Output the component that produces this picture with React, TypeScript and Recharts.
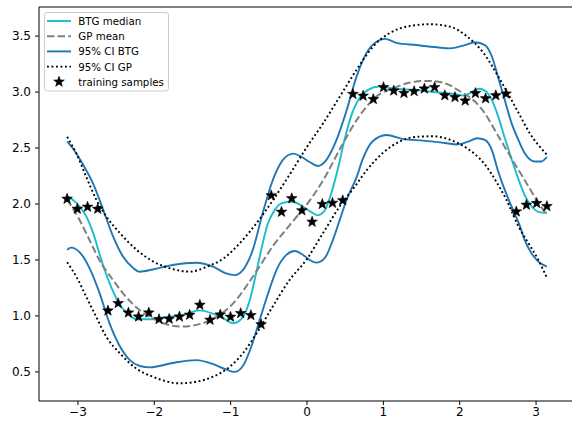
import React from 'react';
import { ComposedChart, Line, Scatter, XAxis, YAxis, ReferenceLine } from 'recharts';

// training samples
const sampleX = [
  -3.142, -3.008, -2.874, -2.741, -2.607, -2.473, -2.339, -2.206, -2.072, -1.938, -1.805, -1.671,
  -1.537, -1.403, -1.27, -1.136, -1.002, -0.869, -0.735, -0.601, -0.468, -0.334, -0.2, -0.067,
  0.067, 0.2, 0.334, 0.468, 0.601, 0.735, 0.869, 1.002, 1.136, 1.27, 1.403, 1.537,
  1.671, 1.805, 1.938, 2.072, 2.206, 2.339, 2.473, 2.607, 2.741, 2.874, 3.008, 3.142,
];
const sampleY = [
  2.045, 1.956, 1.974, 1.956, 1.047, 1.113, 1.029, 0.993, 1.029, 0.97, 0.973, 0.993,
  1.009, 1.098, 0.964, 1.011, 0.991, 1.024, 1.006, 0.924, 2.076, 1.929, 2.05, 1.942,
  1.84, 1.999, 2.009, 2.032, 2.982, 2.966, 2.936, 3.043, 3.012, 2.991, 3.007, 3.03,
  3.043, 2.97, 2.954, 2.923, 2.99, 2.943, 2.97, 2.985, 1.932, 1.992, 2.007, 1.98,
];

// BTG median
const btgMedianX = [
  -3.142, -3.02, -2.89, -2.8, -2.72, -2.65, -2.56, -2.46, -2.35, -2.22, -2.06, -1.84, -1.62, -1.41,
  -1.23, -1.1, -0.97, -0.84, -0.75, -0.67, -0.59, -0.52, -0.42, -0.32, -0.19, -0.06, 0.05, 0.14,
  0.23, 0.32, 0.41, 0.49, 0.58, 0.69, 0.8, 0.95, 1.15, 1.4, 1.65, 1.9, 2.05, 2.16, 2.25, 2.34,
  2.42, 2.5, 2.59, 2.68, 2.77, 2.85, 2.94, 3.03, 3.142,
];
const btgMedianY = [
  2.07, 2.01, 1.89, 1.74, 1.56, 1.41, 1.25, 1.11, 1.02, 0.97, 0.97, 0.99, 1.01, 1.05,
  1.02, 0.98, 0.935, 0.99, 1.14, 1.37, 1.62, 1.81, 1.95, 2.01, 2.02, 1.98, 1.93, 1.9,
  1.94, 2.1, 2.33, 2.57, 2.79, 2.95, 3.02, 3.05, 3.03, 3.02, 3.0, 2.985, 2.97, 3.0, 3.03, 3.01,
  2.93, 2.79, 2.59, 2.4, 2.22, 2.08, 1.98, 1.93, 1.92,
];

// GP mean
const gpMeanX = [
  -3.142, -2.98, -2.85, -2.72, -2.54, -2.37, -2.19, -1.97, -1.67, -1.45, -1.19, -0.97, -0.71,
  -0.45, -0.18, 0.035, 0.21, 0.47, 0.69, 0.91, 1.15, 1.35, 1.58, 1.8, 2.02, 2.2, 2.33, 2.46,
  2.59, 2.72, 2.85, 2.98, 3.142,
];
const gpMeanY = [
  2.04, 1.86, 1.68, 1.5, 1.32, 1.17, 1.05, 0.96, 0.905, 0.92, 0.99, 1.11, 1.35,
  1.62, 1.85, 2.03, 2.21, 2.54, 2.79, 2.96, 3.04, 3.085, 3.1, 3.08, 3.0, 2.915, 2.81, 2.66,
  2.51, 2.36, 2.215, 2.065, 1.9,
];

// 95% CI BTG
const btgUpperX = [
  -3.142, -3.07, -2.94, -2.8, -2.67, -2.54, -2.41, -2.28, -2.19, -2.02, -1.76, -1.45, -1.23,
  -1.06, -0.95, -0.84, -0.71, -0.58, -0.45, -0.32, -0.18, -0.07, 0.035, 0.14, 0.25, 0.385,
  0.52, 0.65, 0.78, 0.91, 1.02, 1.17, 1.43, 1.7, 1.87, 2.07, 2.2, 2.33, 2.42, 2.5, 2.59,
  2.68, 2.77, 2.85, 2.98, 3.07, 3.142,
];
const btgUpperY = [
  2.56, 2.5, 2.36, 2.18, 1.95, 1.71, 1.53, 1.43, 1.395, 1.415, 1.455, 1.475, 1.44,
  1.38, 1.365, 1.41, 1.59, 1.92, 2.21, 2.39, 2.45, 2.42, 2.375, 2.34, 2.39, 2.57,
  2.84, 3.14, 3.35, 3.45, 3.475, 3.44, 3.42, 3.4, 3.39, 3.42, 3.445, 3.42, 3.32, 3.14, 2.93,
  2.72, 2.57, 2.455, 2.38, 2.38, 2.42,
];
const btgLowerX = [
  -3.142, -3.09, -2.98, -2.85, -2.72, -2.59, -2.46, -2.32, -2.19, -2.06, -1.76, -1.45, -1.23,
  -1.06, -0.95, -0.84, -0.73, -0.62, -0.51, -0.4, -0.27, -0.16, -0.05, 0.035, 0.12, 0.23,
  0.34, 0.43, 0.52, 0.65, 0.73, 0.86, 1.04, 1.26, 1.52, 1.83, 1.96, 2.11, 2.23, 2.33, 2.42,
  2.5, 2.59, 2.68, 2.79, 2.85, 2.94, 3.03, 3.142,
];
const btgLowerY = [
  1.59, 1.61, 1.57, 1.43, 1.21, 0.94, 0.74, 0.605, 0.553, 0.54, 0.58, 0.605, 0.57,
  0.522, 0.5, 0.553, 0.725, 0.964, 1.2, 1.41, 1.545, 1.58, 1.545, 1.5, 1.476, 1.515,
  1.68, 1.86, 2.04, 2.24, 2.4, 2.56, 2.617, 2.58, 2.566, 2.543, 2.532, 2.557, 2.588, 2.572, 2.483,
  2.3, 2.126, 1.976, 1.8, 1.68, 1.56, 1.485, 1.44,
];

// 95% CI GP
const gpUpperX = [
  -3.142, -3.02, -2.89, -2.76, -2.63, -2.45, -2.23, -2.01, -1.75, -1.53, -1.31, -1.09, -0.88,
  -0.66, -0.44, -0.23, -0.01, 0.21, 0.43, 0.65, 0.87, 1.09, 1.31, 1.61, 1.87, 2.09, 2.31,
  2.53, 2.75, 2.92, 3.142,
];
const gpUpperY = [
  2.6, 2.45, 2.24, 2.04, 1.89, 1.74, 1.59, 1.485, 1.417, 1.396, 1.44, 1.515, 1.65,
  1.83, 2.04, 2.26, 2.5, 2.72, 2.96, 3.2, 3.41, 3.53, 3.585, 3.606, 3.585, 3.5, 3.35,
  3.11, 2.84, 2.63, 2.44,
];
const gpLowerX = [
  -3.142, -3.02, -2.89, -2.76, -2.63, -2.45, -2.24, -2.02, -1.67, -1.45, -1.23, -1.01, -0.84,
  -0.66, -0.45, -0.23, -0.01, 0.21, 0.43, 0.62, 0.78, 1.0, 1.22, 1.43, 1.65, 1.87, 2.09,
  2.31, 2.53, 2.61, 2.77, 2.9, 3.03, 3.142,
];
const gpLowerY = [
  1.48, 1.35, 1.17, 0.99, 0.815, 0.666, 0.532, 0.457, 0.398, 0.412, 0.457, 0.547, 0.666,
  0.845, 1.083, 1.32, 1.5, 1.74, 1.98, 2.15, 2.3, 2.46, 2.56, 2.6, 2.605, 2.575, 2.5,
  2.37, 2.14, 2.04, 1.8, 1.65, 1.5, 1.34,
];

const xTicks = [-3, -2, -1, 0, 1, 2, 3];
const yTicks = [0.5, 1.0, 1.5, 2.0, 2.5, 3.0, 3.5];
const legendLabels = ['BTG median', 'GP mean', '95% CI BTG', '95% CI GP', 'training samples'];

const X_DOMAIN: [number, number] = [-3.51, 3.51];
const Y_DOMAIN: [number, number] = [0.24, 3.76];

const zip = (xs: number[], ys: number[]) => xs.map((x, i) => ({ x, y: ys[i] }));

const FONT = '"DejaVu Sans", sans-serif';
const CYAN = '#17becf';
const BLUE = '#1f77b4';
const GREY = '#808080';
const LW = 1.9;
const DOTS = '1.9 2.6';
const DASHES = '7.4 3.2';

const starPoints = (cx: number, cy: number, ro: number, ri: number) => {
  const pts: string[] = [];
  for (let i = 0; i < 10; i++) {
    const r = i % 2 === 0 ? ro : ri;
    const a = -Math.PI / 2 + (i * Math.PI) / 5;
    pts.push(`${(cx + r * Math.cos(a)).toFixed(2)},${(cy + r * Math.sin(a)).toFixed(2)}`);
  }
  return pts.join(' ');
};

const StarShape = (props: any) => {
  const { cx, cy } = props;
  if (cx == null || cy == null) return null;
  return <polygon points={starPoints(cx, cy, 5.6, 2.3)} fill="#000" stroke="#000" strokeWidth={0.6} />;
};

const fmtTick = (v: number) => (v < 0 ? `\u2212${Math.abs(v)}` : `${v}`);

const Legend = () => {
  const rowY = [21, 36.2, 51.4, 66.6, 81.8];
  const x1 = 47;
  const x2 = 71;
  return (
    <svg width={572} height={421} style={{ position: 'absolute', left: 0, top: 0, pointerEvents: 'none' }}>
      <rect x={44.5} y={12.5} width={124} height={78.5} rx={2.5} fill="rgba(255,255,255,0.8)" stroke="#cccccc" strokeWidth={1} />
      <line x1={x1} x2={x2} y1={rowY[0]} y2={rowY[0]} stroke={CYAN} strokeWidth={LW} />
      <line x1={x1} x2={x2} y1={rowY[1]} y2={rowY[1]} stroke={GREY} strokeWidth={2} strokeDasharray={DASHES} />
      <line x1={x1} x2={x2} y1={rowY[2]} y2={rowY[2]} stroke={BLUE} strokeWidth={LW} />
      <line x1={x1} x2={x2} y1={rowY[3]} y2={rowY[3]} stroke="#000" strokeWidth={LW} strokeDasharray={DOTS} />
      <polygon points={starPoints((x1 + x2) / 2, rowY[4], 5.6, 2.3)} fill="#000" stroke="#000" strokeWidth={0.6} />
      {legendLabels.map((label, i) => (
        <text key={label} x={78.3} y={rowY[i]} dominantBaseline="central" fontFamily={FONT} fontSize={10.25} fill="#000">
          {label}
        </text>
      ))}
    </svg>
  );
};

export default function App() {
  return (
    <div style={{ position: 'absolute', left: 0, top: 0, width: 572, height: 421, overflow: 'hidden', background: '#fff' }}>
      <ComposedChart width={580} height={421} margin={{ top: 7, right: 5, bottom: 0, left: 0 }}>
        <XAxis
          type="number"
          dataKey="x"
          domain={X_DOMAIN}
          ticks={xTicks}
          allowDataOverflow
          tickFormatter={fmtTick}
          tick={{ fontSize: 12, fill: '#000', fontFamily: FONT }}
          tickSize={4}
          tickMargin={2}
          axisLine={{ stroke: '#000', strokeWidth: 1 }}
          tickLine={{ stroke: '#000' }}
          height={20}
        />
        <YAxis
          type="number"
          dataKey="y"
          domain={Y_DOMAIN}
          ticks={yTicks}
          allowDataOverflow
          tickFormatter={(v: number) => v.toFixed(1)}
          tick={{ fontSize: 12, fill: '#000', fontFamily: FONT }}
          tickSize={4}
          tickMargin={4}
          axisLine={{ stroke: '#000', strokeWidth: 1 }}
          tickLine={{ stroke: '#000' }}
          width={39}
        />
        <ReferenceLine y={Y_DOMAIN[1]} stroke="#000" strokeWidth={1} />
        <Line data={zip(btgMedianX, btgMedianY)} dataKey="y" type="monotone" stroke={CYAN} strokeWidth={LW} dot={false} activeDot={false} isAnimationActive={false} />
        <Line data={zip(gpMeanX, gpMeanY)} dataKey="y" type="monotone" stroke={GREY} strokeWidth={2} strokeDasharray={DASHES} dot={false} activeDot={false} isAnimationActive={false} />
        <Line data={zip(btgUpperX, btgUpperY)} dataKey="y" type="monotone" stroke={BLUE} strokeWidth={LW} dot={false} activeDot={false} isAnimationActive={false} />
        <Line data={zip(btgLowerX, btgLowerY)} dataKey="y" type="monotone" stroke={BLUE} strokeWidth={LW} dot={false} activeDot={false} isAnimationActive={false} />
        <Line data={zip(gpUpperX, gpUpperY)} dataKey="y" type="monotone" stroke="#000" strokeWidth={LW} strokeDasharray={DOTS} dot={false} activeDot={false} isAnimationActive={false} />
        <Line data={zip(gpLowerX, gpLowerY)} dataKey="y" type="monotone" stroke="#000" strokeWidth={LW} strokeDasharray={DOTS} dot={false} activeDot={false} isAnimationActive={false} />
        <Scatter data={zip(sampleX, sampleY)} dataKey="y" shape={<StarShape />} isAnimationActive={false} />
      </ComposedChart>
      <Legend />
    </div>
  );
}
